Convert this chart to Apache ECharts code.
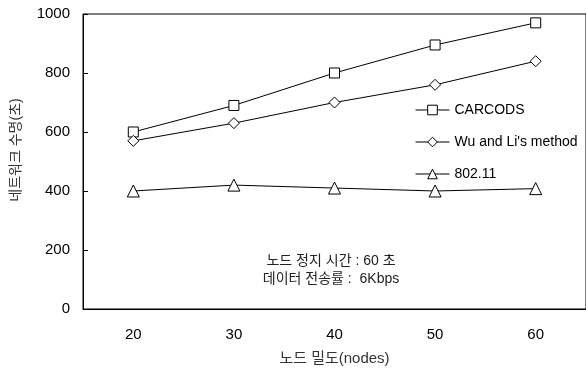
<!DOCTYPE html>
<html>
<head>
<meta charset="utf-8">
<script src="https://cdn.jsdelivr.net/npm/echarts@6/dist/echarts.min.js"></script>
<style>html,body{margin:0;padding:0;background:#fff}#c{width:586px;height:371px}</style>
</head>
<body>
<div id="c"></div>
<script>
var categories = ['20', '30', '40', '50', '60'];
var carcods = [600, 690, 800, 895, 970];
var wuLi = [570, 630, 700, 760, 840];
var ieee80211 = [400, 420, 410, 400, 408];
var yTicks = [0, 200, 400, 600, 800, 1000];
var seriesNames = ['CARCODS', "Wu and Li's method", '802.11'];

var FONT = '"Liberation Sans", Arial, "Noto Sans CJK KR", sans-serif';
var chart = echarts.init(document.getElementById('c'));
function mk(name, data, symbol, size) {
  return {
    name: name, type: 'line', data: data, symbol: symbol, symbolSize: size,
    showAllSymbol: true,
    lineStyle: { color: '#000', width: 1 },
    itemStyle: { color: '#fff', borderColor: '#000', borderWidth: 1 },
    emphasis: { disabled: true },
    animation: false
  };
}
chart.setOption({
  backgroundColor: '#fff',
  animation: false,
  textStyle: { fontFamily: FONT },
  grid: { left: 83, top: 14, bottom: 60, width: 505, show: true, borderColor: '#000', borderWidth: 1, backgroundColor: 'transparent' },
  legend: {
    orient: 'vertical', left: 410, top: 98, itemGap: 18, itemWidth: 34, itemHeight: 12,
    data: seriesNames,
    itemStyle: { borderWidth: 1, borderColor: '#000', color: '#fff' },
    lineStyle: { width: 1, color: '#000' },
    textStyle: { fontSize: 14, color: '#000', fontFamily: FONT },
    inactiveColor: '#000'
  },
  xAxis: {
    type: 'category', data: categories, boundaryGap: true,
    axisLine: { lineStyle: { color: '#000', width: 1 } },
    axisTick: { inside: true, length: 5, lineStyle: { color: '#000' } },
    axisLabel: { fontSize: 15, color: '#000', margin: 18, fontFamily: FONT },
    name: '노드 밀도(nodes)', nameLocation: 'middle', nameGap: 42,
    nameTextStyle: { fontSize: 15, color: '#333', fontFamily: FONT }
  },
  yAxis: {
    type: 'value', min: 0, max: 1000, interval: 200,
    axisLine: { show: true, lineStyle: { color: '#000', width: 1 } },
    axisTick: { show: true, inside: true, length: 5, lineStyle: { color: '#000' } },
    splitLine: { show: false },
    axisLabel: { fontSize: 15, color: '#000', margin: 13, fontFamily: FONT,
      formatter: function (v) { return yTicks.indexOf(v) >= 0 ? String(v) : ''; } }
  },
  graphic: [
    { type: 'text', x: 16, y: 150, rotation: Math.PI / 2, style: { text: '네트워크 수명(초)', textAlign: 'center', textVerticalAlign: 'middle', font: '14px ' + FONT, fill: '#333' } },
    { type: 'text', x: 331, y: 261, style: { text: '노드 정지 시간 : 60 초', textAlign: 'center', textVerticalAlign: 'middle', font: '14px ' + FONT, fill: '#222' } },
    { type: 'text', x: 331, y: 279, style: { text: '데이터 전송률 :  6Kbps', textAlign: 'center', textVerticalAlign: 'middle', font: '14px ' + FONT, fill: '#222' } }
  ],
  series: [
    mk(seriesNames[0], carcods, 'rect', 10),
    mk(seriesNames[1], wuLi, 'diamond', 11),
    mk(seriesNames[2], ieee80211, 'triangle', 12)
  ]
});
</script>
</body>
</html>
